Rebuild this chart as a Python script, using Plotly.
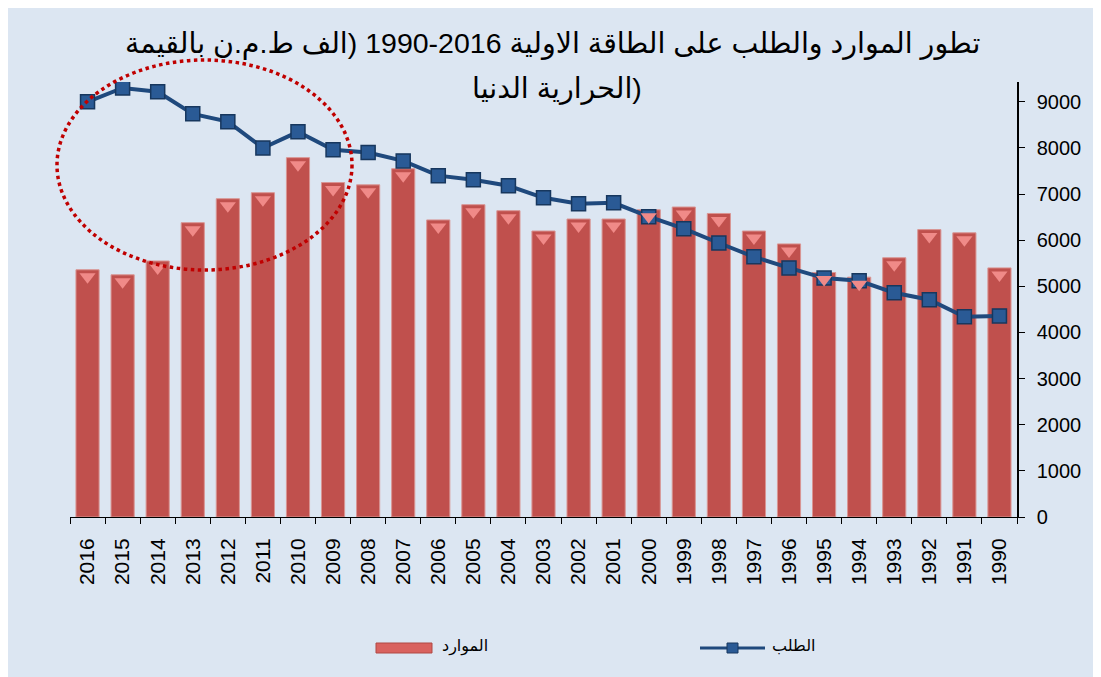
import plotly.graph_objects as go

years = [str(y) for y in range(2016, 1989, -1)]
resources = [5360, 5250, 5550, 6380, 6900, 7030, 7790, 7250, 7200, 7550,
             6440, 6770, 6640, 6200, 6460, 6460, 6660, 6720, 6580, 6200,
             5920, 5300, 5200, 5620, 6230, 6160, 5400]
demand = [9000, 9300, 9220, 8740, 8570, 8000, 8350, 7960, 7900, 7720,
          7400, 7310, 7180, 6920, 6790, 6810, 6510, 6250, 5940, 5640,
          5400, 5180, 5120, 4860, 4710, 4340, 4360]

title_line1 = "تطور الموارد والطلب على الطاقة الاولية 2016-1990 (الف ط.م.ن بالقيمة"
title_line2 = "الحرارية الدنيا)"

YMAX = 9430
shift = 7 * YMAX / 435  # ~7px downward for the bevel highlight
FONT = "Arial, Liberation Sans, DejaVu Sans"

fig = go.Figure()
fig.add_trace(go.Bar(x=years, y=resources, name="الموارد", width=0.66,
                     marker=dict(color="#C0504D", line=dict(color="#D99694", width=1))))
# bevel highlight on bar tops
fig.add_trace(go.Scatter(x=years, y=resources, mode="markers", showlegend=False,
                         hoverinfo="skip", yaxis="y2",
                         marker=dict(symbol="triangle-down", size=14, color="#F08A88",
                                     line=dict(width=0))))
fig.add_trace(go.Scatter(x=years, y=demand, name="الطلب", mode="lines+markers",
                         line=dict(color="#1F497D", width=4),
                         marker=dict(symbol="square", size=14, color="#2A5A95",
                                     line=dict(color="#17375E", width=1.5))))

# screen px -> paper coords (plot area 70..1017 x 82..517 on screen)
def px_x(p):
    return (p - 70) / 947

def px_y(p):
    return (517 - p) / 435

def label(text, x, y, size, xanchor="center"):
    return dict(text=text, x=px_x(x), y=px_y(y), xref="paper", yref="paper",
                xanchor=xanchor, yanchor="middle", showarrow=False,
                font=dict(family=FONT, size=size, color="black"))

annotations = [
    label(title_line1, 552, 44, 28.5),
    label(title_line2, 557, 88, 28.5),
    label("الموارد", 440, 646, 16, xanchor="left"),
    label("الطلب", 770, 646, 16, xanchor="left"),
]

shapes = [
    dict(type="circle", xref="paper", yref="paper",
         x0=px_x(57), x1=px_x(352), y0=px_y(270), y1=px_y(60),
         line=dict(color="#C00000", width=3.5, dash="dot"), layer="above"),
    # legend symbols
    dict(type="rect", xref="paper", yref="paper", x0=px_x(376), x1=px_x(432),
         y0=px_y(653), y1=px_y(643), fillcolor="#D9625F",
         line=dict(color="#B04845", width=1)),
    dict(type="line", xref="paper", yref="paper", x0=px_x(700), x1=px_x(765),
         y0=px_y(648), y1=px_y(648), line=dict(color="#1F497D", width=3)),
    dict(type="rect", xref="paper", yref="paper", x0=px_x(727), x1=px_x(738),
         y0=px_y(653), y1=px_y(643), fillcolor="#2A5A95",
         line=dict(color="#17375E", width=1)),
]

fig.update_layout(
    width=1101, height=677,
    paper_bgcolor="#DCE6F2", plot_bgcolor="#DCE6F2",
    margin=dict(l=62, r=92, t=74, b=168),
    font=dict(family=FONT, color="black"),
    showlegend=False,
    xaxis=dict(type="category", tickangle=-90, showline=True, linecolor="black",
               linewidth=1, ticks="outside", tickson="boundaries", ticklen=6,
               tickcolor="black", showgrid=False, tickfont=dict(size=21),
               range=[-0.5, 26.5], automargin=False, ticklabelstandoff=12),
    yaxis=dict(side="right", range=[0, YMAX], dtick=1000, showline=True,
               linecolor="black", linewidth=1.5, ticks="outside", ticklen=6,
               tickcolor="black", showgrid=False, zeroline=False,
               tickfont=dict(size=20), ticklabelstandoff=8, automargin=False),
    yaxis2=dict(overlaying="y", range=[shift, YMAX + shift], visible=False),
    shapes=shapes,
    annotations=annotations,
)

fig.write_html("out.html")
